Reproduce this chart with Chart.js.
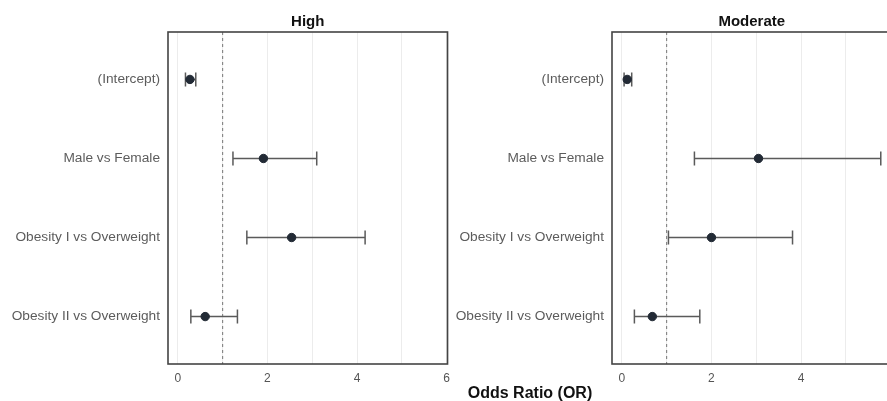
<!DOCTYPE html>
<html>
<head>
<meta charset="utf-8">
<script src="https://cdn.jsdelivr.net/npm/chart.js@4.4.1/dist/chart.umd.min.js"></script>
<style>
    html, body { margin: 0; padding: 0; background: #fff; overflow: hidden; }
    #wrap { position: relative; width: 887px; height: 401px; overflow: hidden; }
    canvas { position: absolute; top: 0; }
    #highChart { left: 0; }
    #modChart { left: 444px; }
    #xTitle {
        position: absolute; left: 430px; width: 200px; top: 384px;
        text-align: center; color: #111;
        font: bold 16px "Liberation Sans", Arial, sans-serif;
    }
</style>
</head>
<body>
<div id="wrap">
    <canvas id="highChart" width="457" height="401"></canvas>
    <canvas id="modChart" width="457" height="401"></canvas>
    <div id="xTitle">Odds Ratio (OR)</div>
</div>
<script>
const categories = ['(Intercept)', 'Male vs Female', 'Obesity I vs Overweight', 'Obesity II vs Overweight'];
const xTickValues = [0, 1, 2, 3, 4, 5, 6];

const highOR    = [0.27, 1.91, 2.54, 0.61];
const highLower = [0.17, 1.23, 1.54, 0.29];
const highUpper = [0.40, 3.10, 4.18, 1.33];

const modOR    = [0.12, 3.05, 2.00, 0.68];
const modLower = [0.05, 1.62, 1.04, 0.28];
const modUpper = [0.22, 5.78, 3.81, 1.74];

const fontFamily = '"Liberation Sans", Arial, sans-serif';

// error bars, reference line at OR = 1 and the panel box
const forestPlugin = {
    id: 'forest',
    beforeDatasetsDraw(chart, args, opts) {
        const { ctx, chartArea, scales: { x, y } } = chart;
        ctx.save();
        const x1 = x.getPixelForValue(1);
        ctx.strokeStyle = '#777';
        ctx.lineWidth = 1;
        ctx.setLineDash([3, 3]);
        ctx.beginPath();
        ctx.moveTo(x1, chartArea.top);
        ctx.lineTo(x1, chartArea.bottom);
        ctx.stroke();
        ctx.setLineDash([]);

        ctx.strokeStyle = '#5a5a5a';
        ctx.lineWidth = 1.5;
        opts.lower.forEach((lo, i) => {
            const yy = y.getPixelForValue(i + 1);
            const a = x.getPixelForValue(lo);
            const b = x.getPixelForValue(opts.upper[i]);
            ctx.beginPath();
            ctx.moveTo(a, yy); ctx.lineTo(b, yy);
            ctx.moveTo(a, yy - 7); ctx.lineTo(a, yy + 7);
            ctx.moveTo(b, yy - 7); ctx.lineTo(b, yy + 7);
            ctx.stroke();
        });
        ctx.restore();
    },
    afterDraw(chart) {
        const { ctx, chartArea } = chart;
        ctx.save();
        ctx.strokeStyle = '#444';
        ctx.lineWidth = 1.6;
        ctx.strokeRect(chartArea.left, chartArea.top, chartArea.right - chartArea.left, chartArea.bottom - chartArea.top);
        ctx.restore();
    }
};

function makeForest(canvasId, title, or, lower, upper) {
    const ctx = document.getElementById(canvasId).getContext('2d');
    return new Chart(ctx, {
        type: 'scatter',
        data: {
            datasets: [{
                data: or.map((v, i) => ({ x: v, y: i + 1 })),
                backgroundColor: '#222a35',
                borderColor: '#222a35',
                pointRadius: 4.2,
                pointHoverRadius: 4.2
            }]
        },
        options: {
            responsive: false,
            animation: false,
            layout: { padding: { left: 0, right: 8, top: 0, bottom: 0 } },
            scales: {
                x: {
                    type: 'linear',
                    min: -0.22,
                    max: 6.02,
                    afterBuildTicks: (scale) => { scale.ticks = xTickValues.map(v => ({ value: v })); },
                    afterFit: (scale) => { scale.height = 37; },
                    grid: { color: '#ececec', lineWidth: 1, drawTicks: false },
                    border: { display: false },
                    ticks: {
                        padding: 7,
                        color: '#555',
                        font: { size: 12, family: fontFamily },
                        autoSkip: false,
                        maxRotation: 0,
                        callback: (value) => value % 2 === 0 ? value : ''
                    }
                },
                y: {
                    type: 'linear',
                    min: 0.4,
                    max: 4.6,
                    reverse: true,
                    afterBuildTicks: (scale) => { scale.ticks = categories.map((c, i) => ({ value: i + 1 })); },
                    afterFit: (scale) => { scale.width = 168; },
                    grid: { display: false, drawTicks: false },
                    border: { display: false },
                    ticks: {
                        padding: 8,
                        color: '#5c5c5c',
                        font: { size: 13.7, family: fontFamily },
                        callback: (value) => categories[value - 1]
                    }
                }
            },
            plugins: {
                legend: { display: false },
                tooltip: { enabled: false },
                title: {
                    display: true,
                    text: title,
                    fullSize: false,
                    color: '#111',
                    font: { size: 15, weight: 'bold', family: fontFamily },
                    padding: { top: 13, bottom: 1 }
                },
                forest: { lower: lower, upper: upper }
            }
        },
        plugins: [forestPlugin]
    });
}

makeForest('highChart', 'High', highOR, highLower, highUpper);
makeForest('modChart', 'Moderate', modOR, modLower, modUpper);
</script>
</body>
</html>
